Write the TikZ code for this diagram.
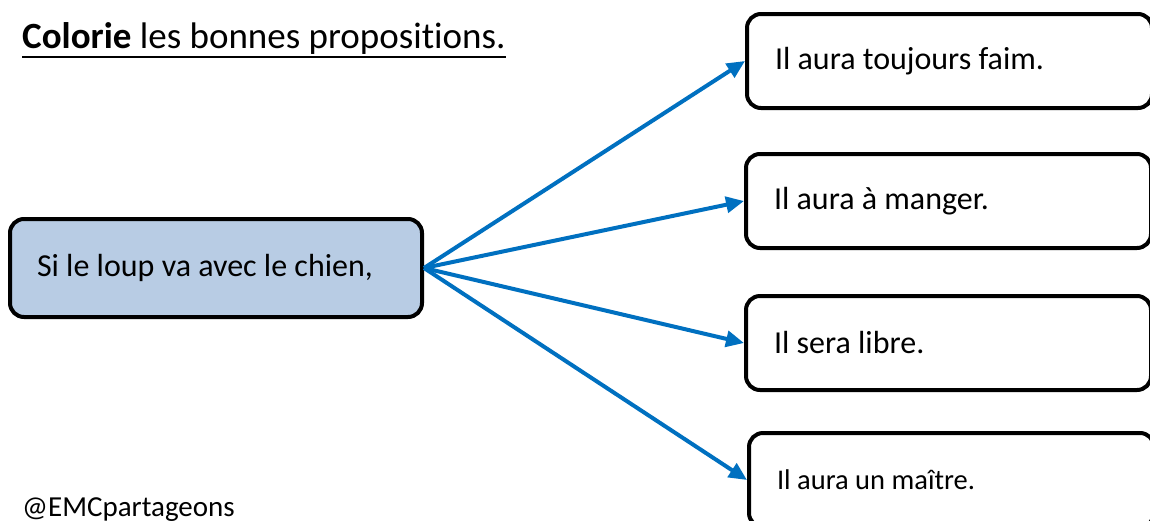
\documentclass[tikz,border=0pt]{standalone}
\usepackage{fontspec}
\setmainfont{Carlito}[Ligatures=NoCommon]
\usetikzlibrary{arrows.meta, positioning}
\definecolor{boxblue}{HTML}{B8CCE4}
\definecolor{arrowblue}{HTML}{0070C0}

\begin{document}
\begin{tikzpicture}[x=1pt,y=-1pt,
    every node/.style={font=\fontsize{32}{38}\selectfont},
    choice/.style={draw, line width=4pt, rounded corners=14pt, minimum height=94pt,
        text width=349pt, inner xsep=28pt, align=flush left, anchor=north west},
    cond/.style={choice, fill=boxblue, minimum height=98pt, text width=358pt, inner xsep=27pt},
    link/.style={-{Triangle[length=18pt,width=16pt]}, draw=arrowblue, line width=4pt}]
    \useasboundingbox (0,0) rectangle (1150,520);
    \clip (0,0) rectangle (1150,520);
    \node[font=\fontsize{37}{44}\selectfont, anchor=base west, inner sep=0] (title) at (22,48)
        {\textbf{Colorie} les bonnes propositions.};
    \draw[line width=2.6pt] ([yshift=-9pt]title.base west) -- ([yshift=-9pt]title.base east);
    \node[cond] (loup) at (8,217) {Si le loup va avec le chien,};
    \node[choice] (faim) at (745,12) {Il aura toujours faim.};
    \node[choice] (manger) at (744,152) {Il aura à manger.};
    \node[choice] (libre) at (744,294) {Il sera libre.};
    \node[choice, font=\fontsize{28.5}{34}\selectfont] (maitre) at (747,431) {Il aura un maître.};
    \node[font=\fontsize{29}{34}\selectfont, anchor=base west, inner sep=0] (tag) at (22,516) {@EMCpartageons};
    % \node[choice] (autre) [below=of maitre] {...};
    \path
        (loup.east) edge[link] (faim.west)
                    edge[link] (manger.west)
                    edge[link] (libre.west)
                    edge[link] (maitre.west)
    ;
\end{tikzpicture}
\end{document}
